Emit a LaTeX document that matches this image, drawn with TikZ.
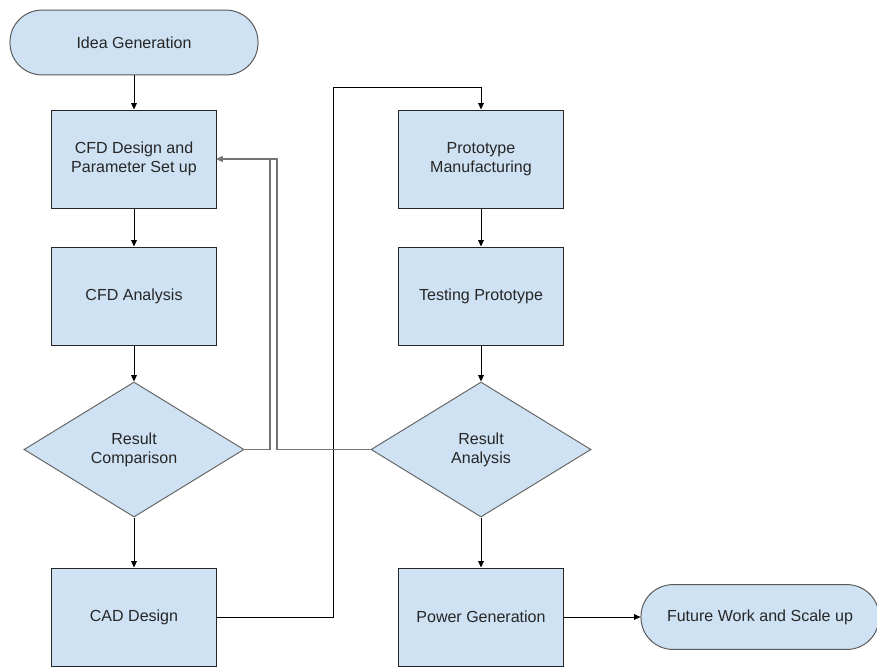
\documentclass[tikz,border=0pt]{standalone}
\usepackage{fontspec}
\setmainfont{Liberation Sans}
\usepackage{xcolor}
\usetikzlibrary{shapes.geometric,arrows.meta}
\definecolor{boxblue}{HTML}{CFE2F3}
\definecolor{inkgray}{HTML}{262626}
\tikzset{
  stepbox/.style={draw=black!85,fill=boxblue,line width=0.7pt,minimum width=4.1cm,minimum height=2.45cm,align=center,text=inkgray,font=\fontsize{11.4}{13.6}\selectfont},
  decide/.style={diamond,draw=black!60,fill=boxblue,line width=0.7pt,minimum width=5.5cm,minimum height=3.375cm,inner sep=0pt,align=center,text=inkgray,font=\fontsize{11.4}{13.6}\selectfont},
  terminal/.style={draw=black!65,fill=boxblue,line width=0.7pt,rounded corners=0.8cm,minimum height=1.62cm,align=center,text=inkgray,font=\fontsize{11.4}{13.6}\selectfont},
  arr/.style={-{Triangle[length=4.5pt,width=4pt]},line width=0.6pt,draw=black},
  back/.style={-{Triangle[length=4.5pt,width=4pt]},line width=0.9pt,draw=black!55}
}

\begin{document}
\begin{tikzpicture}[x=0.025cm,y=-0.025cm]

\clip (0,0) rectangle (877,666);
\fill[white] (0,0) rectangle (877,666);

% left column
\node[terminal,minimum width=6.2cm] (idea) at (134,42.5) {Idea Generation};
\node[stepbox] (design) at (134,159) {CFD Design and\\Parameter Set up};
\node[stepbox] (cfd) at (134,296) {CFD Analysis};
\node[decide] (compare) at (134,449.5) {Result\\Comparison};
\node[stepbox] (cad) at (134,617) {CAD Design};

% right column
\node[stepbox] (proto) at (481,159) {Prototype\\Manufacturing};
\node[stepbox] (test) at (481,296) {Testing Prototype};
\node[decide] (analysis) at (481,449.5) {Result\\Analysis};
\node[stepbox] (power) at (481,617) {Power Generation};
\node[terminal,minimum width=5.95cm] (future) at (760,617) {Future Work and Scale up};

\draw[arr] (idea) -- (design);
\draw[arr] (design) -- (cfd);
\draw[arr] (cfd) -- (compare);
\draw[arr] (compare) -- (cad);

\coordinate (hop) at (333,87);
\draw[arr] (cad.east) -| (hop) -| (proto.north);

\draw[arr] (proto) -- (test);
\draw[arr] (test) -- (analysis);
\draw[arr] (analysis) -- (power);
\draw[arr] (power) -- (future);

% loops back to the set up
\draw[back] (compare.east) -- (270,449.5) |- (design.east);
\draw[back] (analysis.west) -- (277,449.5) |- (design.east);

\end{tikzpicture}
\end{document}
